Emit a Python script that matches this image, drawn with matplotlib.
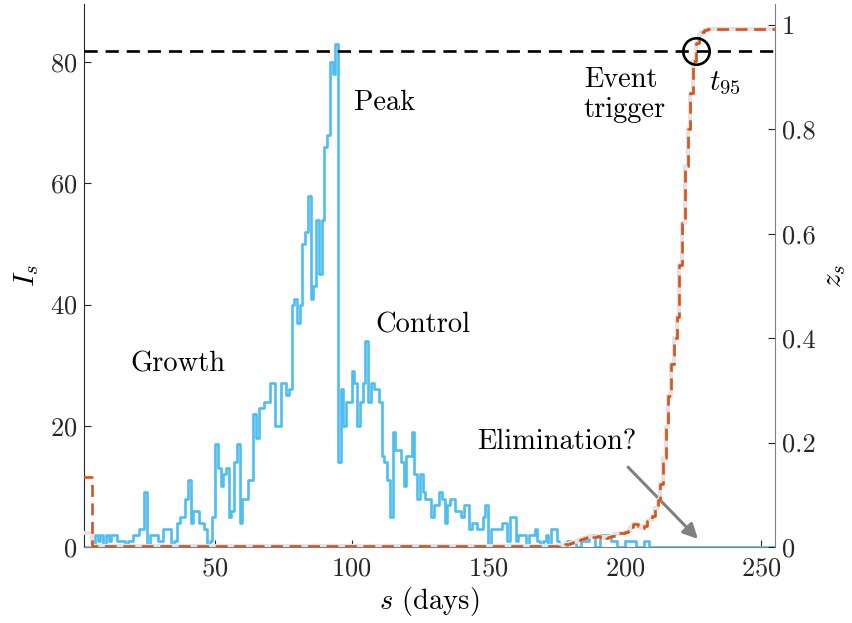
import numpy as np
import matplotlib
matplotlib.use('Agg')
import matplotlib.pyplot as plt

plt.rcParams['font.family'] = 'cmr10'
plt.rcParams['mathtext.fontset'] = 'cm'
plt.rcParams['axes.formatter.use_mathtext'] = True

# Casos diarios I_s (dias 1..255)
dias = np.arange(1, 256)
casos = [0, 0, 0, 0, 0, 2, 1, 2, 0, 2, 1, 2, 2, 1, 1, 1, 0, 1, 1, 2,
         2, 3, 3, 9, 0, 2, 2, 2, 1, 1, 3, 3, 3, 0, 1, 4, 5, 5, 8, 11,
         4, 6, 6, 4, 4, 3, 0, 1, 5, 17, 13, 10, 12, 13, 5, 6, 14, 17, 4, 8,
         8, 11, 11, 22, 18, 23, 23, 24, 24, 27, 27, 20, 20, 27, 27, 25, 26, 40, 41, 37,
         40, 50, 52, 58, 41, 43, 54, 45, 54, 66, 68, 80, 78, 83, 14, 26, 20, 24, 24, 29,
         27, 20, 24, 27, 34, 24, 27, 26, 26, 24, 15, 14, 11, 5, 19, 16, 16, 14, 10, 15,
         15, 19, 12, 8, 12, 9, 8, 8, 5, 7, 7, 9, 8, 4, 7, 8, 8, 6, 6, 5,
         7, 7, 3, 4, 4, 3, 3, 5, 7, 0, 3, 3, 3, 3, 4, 4, 1, 5, 5, 1,
         2, 2, 2, 0, 2, 2, 3, 1, 0, 1, 2, 0, 3, 3, 1, 0, 0, 0, 1, 1,
         1, 0, 0, 1, 1, 1, 2, 2, 0, 0, 2, 2, 2, 2, 1, 1, 0, 0, 0, 1,
         1, 1, 1, 0, 0, 0, 1, 1] + [0] * 47

# Probabilidad z_s (dias 1..255)
z_inicio = [0.134, 0.134, 0.134, 0.134]
z_bajo = [0.002] * 171                      # dias 5..175
z_subida = [0.003, 0.004, 0.005, 0.006, 0.008, 0.01, 0.012, 0.014, 0.016, 0.018,
            0.02, 0.022, 0.02, 0.02, 0.022, 0.018, 0.02, 0.018, 0.02, 0.022,
            0.025, 0.025, 0.026, 0.026, 0.028, 0.03, 0.038, 0.045, 0.045, 0.04,
            0.036, 0.04, 0.05, 0.052, 0.06, 0.075, 0.09, 0.12, 0.17, 0.23,
            0.29, 0.35, 0.40, 0.44, 0.54, 0.62, 0.73, 0.80, 0.87, 0.93,
            0.965, 0.98, 0.987, 0.99]        # dias 176..229
z_final = [0.992] * 26                      # dias 230..255
z = z_inicio + z_bajo + z_subida + z_final
z_gris = [0.027] * 4 + z[4:]

umbral = 0.95
t95 = 226

fig = plt.figure(figsize=(8.53, 6.23), dpi=100)
ax = fig.add_axes([84 / 853, 1 - 547 / 623, (775 - 84) / 853, (547 - 4) / 623])
ax2 = ax.twinx()

ax.step(dias, casos, where='post', color='#4DBEEE', lw=1.9)

ax2.plot(dias, z_gris, color='#e3e3e3', lw=3.0, drawstyle='steps-post')
ax2.step(dias, z, where='post', color='#D95319', lw=1.9, ls=(0, (4.5, 2.5)))
ax2.axhline(umbral, color='k', lw=1.9, ls=(0, (5, 3)))
ax2.plot([t95], [umbral], 'o', mfc='none', mec='k', ms=19, mew=1.9)

ax.set_xlim(2, 255)
ax.set_ylim(0, 89.6)
ax2.set_ylim(0, 1.04)

ax.set_xticks([50, 100, 150, 200, 250])
ax.set_yticks([0, 20, 40, 60, 80])
ax2.set_yticks([0, 0.2, 0.4, 0.6, 0.8, 1])
ax2.set_yticklabels(['0', '0.2', '0.4', '0.6', '0.8', '1'])

for a in (ax, ax2):
    a.tick_params(direction='in', length=5, labelsize=19, width=0.8, colors='#262626')
    a.spines['top'].set_visible(False)
ax.tick_params(axis='x', pad=7)
ax.tick_params(axis='y', pad=5)
ax2.tick_params(axis='y', pad=5)
ax.spines['left'].set_color('#262626')
ax.spines['bottom'].set_color('#808080')
ax2.spines['right'].set_color('#808080')
ax.spines['right'].set_visible(False)
ax2.spines['left'].set_visible(False)
ax2.spines['bottom'].set_visible(False)

ax.set_xlabel(r'$s$ (days)', fontsize=20.5, labelpad=3)
ax.set_ylabel(r'$I_s$', fontsize=21, labelpad=6)
ax2.set_ylabel(r'$z_s$', fontsize=21, labelpad=4)

fs = 20.5
ax.text(19, 30.2, 'Growth', fontsize=fs, va='center')
ax.text(101, 73.3, 'Peak', fontsize=fs, va='center')
ax.text(108.5, 36.5, 'Control', fontsize=fs, va='center')
ax.text(146, 17.3, 'Elimination?', fontsize=fs, va='center')
ax.text(185, 74.6, 'Event\ntrigger', fontsize=fs, va='center', linespacing=1.15)
ax.text(231, 76.5, r'$t_{95}$', fontsize=21, va='center')

ax.annotate('', xy=(227.5, 1.0), xytext=(200.5, 13.5),
            arrowprops=dict(arrowstyle='-|>', color='#808080', lw=2.2,
                            mutation_scale=22))

fig.savefig('out.png', dpi=100)
